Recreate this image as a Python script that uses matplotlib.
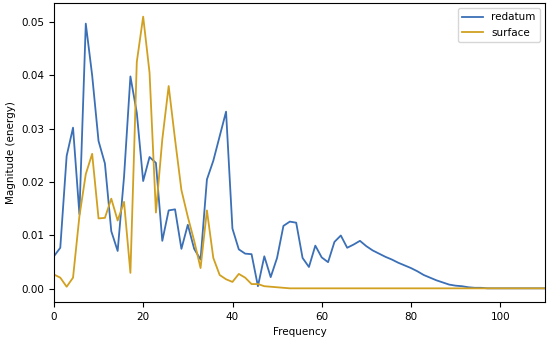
import matplotlib
matplotlib.use('agg')
import matplotlib.pyplot as plt
import numpy as np

# frequency bins (evenly spaced)
n_bins = 79
df = 1.428
freq = np.arange(n_bins) * df

redatum = [0.0061, 0.0077, 0.0249, 0.0302, 0.0140, 0.0497, 0.0400, 0.0277,
           0.0235, 0.0108, 0.0071, 0.0210, 0.0398, 0.0330, 0.0202, 0.0247,
           0.0236, 0.0090, 0.0147, 0.0149, 0.0075, 0.0120, 0.0075, 0.0055,
           0.0205, 0.0240, 0.0286, 0.0332, 0.0113, 0.0074, 0.0066, 0.0065,
           0.0005, 0.0061, 0.0022, 0.0058, 0.0118, 0.0126, 0.0124, 0.0058,
           0.0041, 0.0081, 0.0059, 0.0050, 0.0088, 0.0100, 0.0077, 0.0083,
           0.0090, 0.0080, 0.0072, 0.0066, 0.0060, 0.0055, 0.0049, 0.0044,
           0.0039, 0.0033, 0.0026, 0.0021, 0.0016, 0.0012, 0.0008, 0.0006,
           0.0005, 0.0003, 0.0002, 0.0002, 0.0001, 0.0001, 0.0001, 0.0001,
           0.0001, 0.0001, 0.0001, 0.0001, 0.0001, 0.0001, 0.0001]

surface = [0.0027, 0.0021, 0.0004, 0.0021, 0.0136, 0.0215, 0.0253, 0.0132,
           0.0133, 0.0169, 0.0128, 0.0163, 0.0030, 0.0425, 0.0510, 0.0405,
           0.0143, 0.0280, 0.0380, 0.0280, 0.0185, 0.0135, 0.0090, 0.0039,
           0.0147, 0.0058, 0.0026, 0.0018, 0.0013, 0.0028, 0.0021, 0.0009,
           0.0009, 0.0005, 0.0004, 0.0003, 0.0002] + [0.0001] * 42

fig = plt.figure(figsize=(5.5, 3.4), dpi=100)
ax = fig.add_axes([0.098, 0.112, 0.893, 0.879])

ax.plot(freq, redatum, color='#3b6fb6', lw=1.3, label='redatum')
ax.plot(freq, surface, color='#d1a020', lw=1.3, label='surface')

ax.set_xlim(0, 110)
ax.set_xlabel('Frequency', fontsize=7.5)
ax.set_ylabel('Magnitude (energy)', fontsize=7.5)
ax.tick_params(labelsize=7.5)
ax.legend(loc='upper right', fontsize=7.5)

fig.savefig('out.png', dpi=100)
plt.close(fig)
